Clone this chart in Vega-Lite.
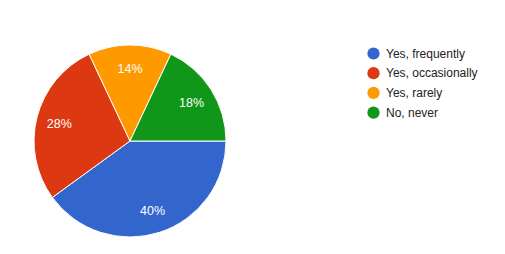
{
  "$schema": "https://vega.github.io/schema/vega-lite/v6.json",
  "width": 505,
  "height": 254,
  "autosize": "none",
  "padding": 0,
  "background": "white",
  "config": {"view": {"stroke": null}, "font": "Liberation Sans"},
  "data": {"values": [
    {"answer": "Yes, frequently", "value": 40, "order": 1, "label": "40%"},
    {"answer": "Yes, occasionally", "value": 28, "order": 2, "label": "28%"},
    {"answer": "Yes, rarely", "value": 14, "order": 3, "label": "14%"},
    {"answer": "No, never", "value": 18, "order": 4, "label": "18%"}
  ]},
  "encoding": {
    "theta": {"field": "value", "type": "quantitative", "stack": true, "scale": {"range": [1.5708, 7.854]}},
    "order": {"field": "order", "type": "quantitative"},
    "color": {
      "field": "answer", "type": "nominal",
      "scale": {"domain": ["Yes, frequently", "Yes, occasionally", "Yes, rarely", "No, never"], "range": ["#3366cc", "#dc3912", "#ff9900", "#109618"]},
      "legend": {
        "title": null, "orient": "none", "legendX": 367, "legendY": 47,
        "symbolType": "circle", "symbolSize": 150, "symbolStrokeWidth": 0,
        "labelFontSize": 12, "labelColor": "#222222", "labelFont": "Liberation Sans",
        "rowPadding": 6.7, "labelOffset": 6
      }
    }
  },
  "layer": [
    {"mark": {"type": "arc", "x": 130, "y": 141, "outerRadius": 96, "stroke": "white", "strokeWidth": 1}},
    {"mark": {"type": "text", "x": 130, "y": 141, "radius": 73, "dy": 1, "fill": "white", "fontSize": 12.5, "baseline": "middle", "align": "center"},
     "encoding": {"text": {"field": "label"}, "color": {"value": "white"}}}
  ]
}
